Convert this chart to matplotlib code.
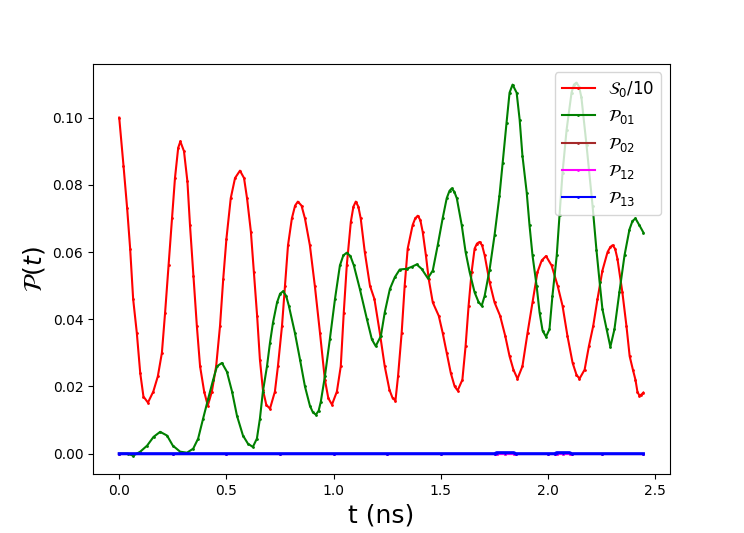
import matplotlib
matplotlib.use("Agg")
import matplotlib.pyplot as plt

# S0/10 (red)
t_s0 = [0.000, 0.020, 0.037, 0.051, 0.065, 0.082, 0.098, 0.113, 0.134, 0.159,
        0.180, 0.199, 0.214, 0.230, 0.246, 0.260, 0.275, 0.285, 0.302, 0.318,
        0.330, 0.346, 0.362, 0.377, 0.396, 0.413, 0.432, 0.452, 0.470, 0.485,
        0.500, 0.520, 0.540, 0.563, 0.582, 0.596, 0.614, 0.628, 0.643, 0.656,
        0.670, 0.686, 0.703, 0.726, 0.740, 0.759, 0.773, 0.787, 0.805, 0.820,
        0.833, 0.850, 0.866, 0.889, 0.912, 0.936, 0.959, 0.975, 0.992, 1.015,
        1.033, 1.047, 1.061, 1.080, 1.092, 1.103, 1.115, 1.126, 1.145, 1.169,
        1.190, 1.215, 1.238, 1.260, 1.275, 1.288, 1.300, 1.317, 1.331, 1.345,
        1.368, 1.380, 1.392, 1.404, 1.415, 1.430, 1.443, 1.462, 1.490, 1.508,
        1.527, 1.546, 1.564, 1.578, 1.600, 1.615, 1.629, 1.643, 1.657, 1.668,
        1.680, 1.692, 1.704, 1.727, 1.750, 1.776, 1.800, 1.820, 1.838, 1.857,
        1.880, 1.904, 1.927, 1.950, 1.970, 1.990, 2.016, 2.044, 2.067, 2.090,
        2.114, 2.132, 2.146, 2.170, 2.190, 2.210, 2.230, 2.253, 2.277, 2.290,
        2.300, 2.312, 2.323, 2.346, 2.365, 2.380, 2.395, 2.407, 2.416, 2.425,
        2.435, 2.444]
s0 = [0.1000, 0.0857, 0.0730, 0.0610, 0.0460, 0.0360, 0.0240, 0.0170, 0.0152, 0.0185,
      0.0230, 0.0300, 0.0420, 0.0560, 0.0700, 0.0820, 0.0910, 0.0929, 0.0900, 0.0810,
      0.0680, 0.0530, 0.0380, 0.0260, 0.0185, 0.0143, 0.0185, 0.0260, 0.0380, 0.0520,
      0.0640, 0.0760, 0.0820, 0.0842, 0.0820, 0.0760, 0.0660, 0.0540, 0.0410, 0.0280,
      0.0190, 0.0145, 0.0134, 0.0185, 0.0260, 0.0380, 0.0500, 0.0620, 0.0700, 0.0738,
      0.0750, 0.0738, 0.0700, 0.0620, 0.0500, 0.0360, 0.0220, 0.0165, 0.0146, 0.0185,
      0.0260, 0.0420, 0.0560, 0.0690, 0.0735, 0.0750, 0.0735, 0.0700, 0.0600, 0.0500,
      0.0460, 0.0360, 0.0260, 0.0190, 0.0165, 0.0158, 0.0230, 0.0360, 0.0500, 0.0610,
      0.0680, 0.0700, 0.0708, 0.0695, 0.0660, 0.0590, 0.0520, 0.0450, 0.0410, 0.0360,
      0.0300, 0.0240, 0.0200, 0.0188, 0.0220, 0.0320, 0.0440, 0.0540, 0.0610, 0.0625,
      0.0630, 0.0620, 0.0590, 0.0510, 0.0450, 0.0410, 0.0350, 0.0290, 0.0250, 0.0223,
      0.0260, 0.0360, 0.0450, 0.0540, 0.0575, 0.0588, 0.0560, 0.0500, 0.0440, 0.0350,
      0.0270, 0.0235, 0.0223, 0.0250, 0.0320, 0.0380, 0.0460, 0.0545, 0.0600, 0.0615,
      0.0620, 0.0610, 0.0580, 0.0480, 0.0380, 0.0290, 0.0250, 0.0220, 0.0185, 0.0173,
      0.0176, 0.0182]

# P01 (green)
t_p01 = [0.000, 0.040, 0.065, 0.098, 0.130, 0.160, 0.191, 0.223, 0.250, 0.284,
         0.316, 0.345, 0.368, 0.391, 0.415, 0.438, 0.456, 0.479, 0.502, 0.526,
         0.549, 0.577, 0.600, 0.623, 0.642, 0.656, 0.670, 0.689, 0.703, 0.717,
         0.736, 0.750, 0.764, 0.778, 0.791, 0.819, 0.843, 0.866, 0.889, 0.903,
         0.917, 0.930, 0.940, 0.959, 0.982, 1.006, 1.029, 1.045, 1.061, 1.078,
         1.094, 1.122, 1.155, 1.178, 1.196, 1.220, 1.238, 1.262, 1.285, 1.308,
         1.340, 1.364, 1.387, 1.410, 1.439, 1.462, 1.485, 1.508, 1.527, 1.540,
         1.550, 1.562, 1.574, 1.597, 1.615, 1.634, 1.657, 1.675, 1.690, 1.704,
         1.727, 1.750, 1.773, 1.788, 1.806, 1.820, 1.834, 1.853, 1.867, 1.880,
         1.900, 1.913, 1.927, 1.946, 1.960, 1.974, 1.990, 2.006, 2.020, 2.040,
         2.053, 2.067, 2.086, 2.109, 2.120, 2.132, 2.144, 2.155, 2.179, 2.207,
         2.225, 2.240, 2.253, 2.272, 2.290, 2.309, 2.332, 2.356, 2.379, 2.393,
         2.407, 2.425, 2.444]
p01 = [0.0000, 0.0000, -0.0006, 0.0006, 0.0024, 0.0050, 0.0065, 0.0054, 0.0024, 0.0006,
       0.0003, 0.0015, 0.0045, 0.0104, 0.0164, 0.0220, 0.0260, 0.0270, 0.0244, 0.0185,
       0.0113, 0.0054, 0.0030, 0.0020, 0.0045, 0.0104, 0.0185, 0.0260, 0.0330, 0.0390,
       0.0450, 0.0476, 0.0483, 0.0470, 0.0440, 0.0360, 0.0280, 0.0200, 0.0143, 0.0123,
       0.0116, 0.0128, 0.0155, 0.0230, 0.0340, 0.0460, 0.0560, 0.0590, 0.0598, 0.0588,
       0.0560, 0.0490, 0.0400, 0.0340, 0.0320, 0.0350, 0.0420, 0.0490, 0.0525, 0.0548,
       0.0550, 0.0556, 0.0563, 0.0550, 0.0522, 0.0545, 0.0620, 0.0700, 0.0760, 0.0782,
       0.0789, 0.0780, 0.0760, 0.0680, 0.0600, 0.0540, 0.0480, 0.0452, 0.0440, 0.0470,
       0.0548, 0.0650, 0.0768, 0.0866, 0.0985, 0.1074, 0.1098, 0.1074, 0.0994, 0.0887,
       0.0777, 0.0680, 0.0590, 0.0500, 0.0420, 0.0366, 0.0348, 0.0370, 0.0470, 0.0590,
       0.0710, 0.0836, 0.0964, 0.1074, 0.1098, 0.1104, 0.1092, 0.1060, 0.0917, 0.0738,
       0.0607, 0.0510, 0.0430, 0.0372, 0.0318, 0.0370, 0.0480, 0.0590, 0.0667, 0.0692,
       0.0700, 0.0680, 0.0658]

# P02, P12, P13 stay at zero apart from two tiny blips in P13
t_low = [0.000, 0.250, 0.500, 0.750, 1.000, 1.250, 1.500, 1.750, 1.760, 1.800,
         1.840, 1.850, 2.000, 2.030, 2.040, 2.070, 2.100, 2.110, 2.250, 2.444]
p02 = [0.0, 0.0, 0.0, 0.0, 0.0, 0.0, 0.0, 0.0, 0.0, 0.0,
       0.0, 0.0, 0.0, 0.0, 0.0, 0.0, 0.0, 0.0, 0.0, 0.0]
p12 = [0.0, 0.0, 0.0, 0.0, 0.0, 0.0, 0.0, 0.0, 0.0, 0.0,
       0.0, 0.0, 0.0, 0.0, 0.0, 0.0, 0.0, 0.0, 0.0, 0.0]
p13 = [0.0, 0.0, 0.0, 0.0, 0.0, 0.0, 0.0, 0.0, 0.0003, 0.0003,
       0.0003, 0.0, 0.0, 0.0, 0.0003, 0.0003, 0.0003, 0.0, 0.0, 0.0]

fig, ax = plt.subplots(figsize=(7.44, 5.33), dpi=100)
ax.plot(t_s0, s0, color='red', marker='.', ms=2, label=r'$\mathcal{S}_0/10$')
ax.plot(t_p01, p01, color='green', marker='.', ms=2, label=r'$\mathcal{P}_{01}$')
ax.plot(t_low, p02, color='brown', marker='.', ms=2, label=r'$\mathcal{P}_{02}$')
ax.plot(t_low, p12, color='magenta', marker='.', ms=2, label=r'$\mathcal{P}_{12}$')
ax.plot(t_low, p13, color='blue', marker='.', ms=2, lw=2.2, label=r'$\mathcal{P}_{13}$')

ax.set_xlabel('t (ns)', fontsize=18)
ax.set_ylabel(r'$\mathcal{P}(t)$', fontsize=18)
leg = ax.legend(loc='upper right', fontsize=12)
for line in leg.get_lines():
    line.set_linewidth(1.5)

fig.savefig('out.png')
